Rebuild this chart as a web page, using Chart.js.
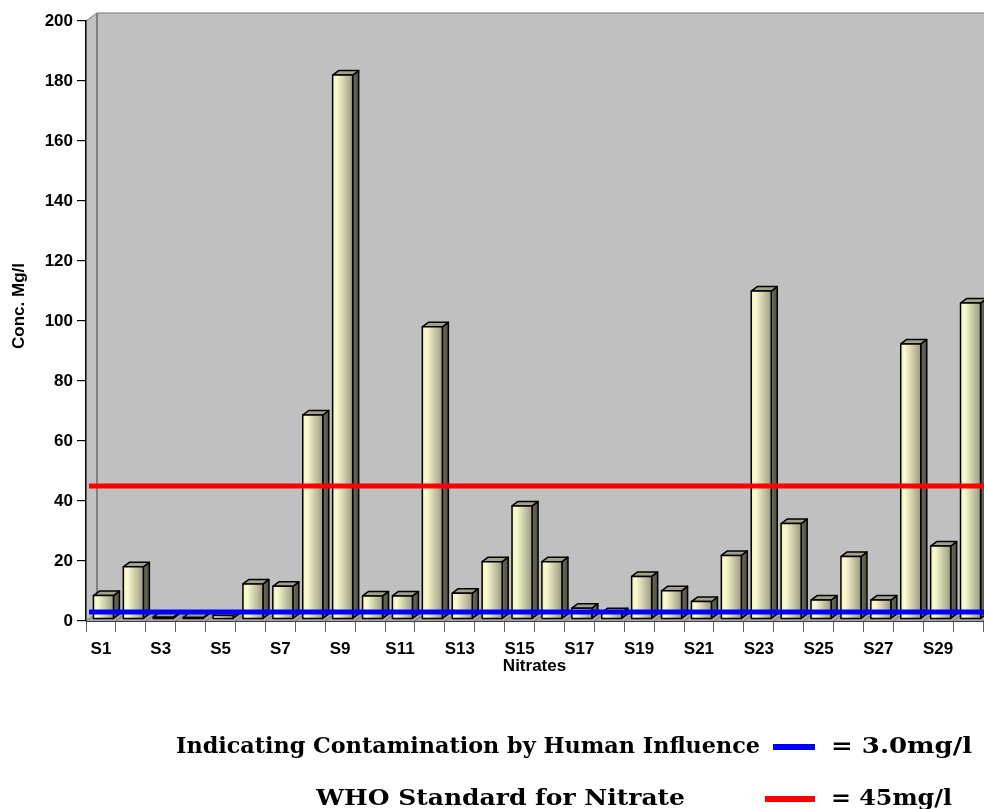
<!DOCTYPE html>
<html>
<head>
<meta charset="utf-8">
<script src="https://cdn.jsdelivr.net/npm/chart.js@4/dist/chart.umd.min.js"></script>
<style>
  html, body { margin: 0; padding: 0; background: #ffffff; overflow: hidden; }
  canvas { display: block; }
</style>
</head>
<body>
<canvas id="chart" width="984" height="809"></canvas>
<script>
// Sampling sites S1..S30
const sites = ['S1','S2','S3','S4','S5','S6','S7','S8','S9','S10',
               'S11','S12','S13','S14','S15','S16','S17','S18','S19','S20',
               'S21','S22','S23','S24','S25','S26','S27','S28','S29','S30'];

// Nitrate concentration per site (mg/l)
const nitrate = [7.8, 17.4, 0.6, 0.5, 1.2, 11.7, 10.9, 68.0, 181.3, 7.7,
                 7.7, 97.4, 8.6, 19.1, 37.7, 19.1, 3.6, 2.1, 14.2, 9.4,
                 5.8, 21.2, 109.3, 31.8, 6.3, 20.8, 6.3, 91.7, 24.3, 105.3];

// Value axis ticks
const yTicks = [0, 20, 40, 60, 80, 100, 120, 140, 160, 180, 200];

// Reference levels
const humanInfluenceLevel = 3.0;
const whoStandard = 45;

// Axis titles and legend captions
const yTitle = 'Conc. Mg/l';
const xTitle = 'Nitrates';
const legendHuman = ['Indicating Contamination by Human Influence', '= 3.0mg/l'];
const legendWho = ['WHO Standard for Nitrate', '= 45mg/l'];

// 3D look: wall depth, bar depth and how far the bar face sits behind the front plane
const WALL = { dx: 11, dy: -8 };
const BAR = { dx: 6, dy: -4.5 };
const FACE = { dx: 2.5, dy: -2 };

const FONT_SANS = "'Liberation Sans', Arial, sans-serif";
const FONT_SERIF = "'DejaVu Serif Condensed', 'DejaVu Serif', serif";

const wallsPlugin = {
  id: 'walls',
  beforeDraw(chart) {
    const { ctx, chartArea: a, width } = chart;
    const n = sites.length;
    const step = (a.right - a.left) / n;
    ctx.save();
    // back wall
    ctx.fillStyle = '#c0c0c0';
    ctx.fillRect(a.left + WALL.dx, a.top + WALL.dy, width - a.left, a.bottom - a.top);
    ctx.strokeStyle = '#9a9a9a';
    ctx.lineWidth = 1.5;
    ctx.beginPath();
    ctx.moveTo(a.left + WALL.dx, a.top + WALL.dy);
    ctx.lineTo(width, a.top + WALL.dy);
    ctx.stroke();
    // left side wall
    ctx.fillStyle = '#c2c2c2';
    ctx.beginPath();
    ctx.moveTo(a.left, a.top);
    ctx.lineTo(a.left + WALL.dx, a.top + WALL.dy);
    ctx.lineTo(a.left + WALL.dx, a.bottom + WALL.dy);
    ctx.lineTo(a.left, a.bottom);
    ctx.closePath();
    ctx.fill();
    ctx.strokeStyle = '#9a9a9a';
    ctx.beginPath();
    ctx.moveTo(a.left, a.top);
    ctx.lineTo(a.left + WALL.dx, a.top + WALL.dy);
    ctx.stroke();
    ctx.strokeStyle = '#808080';
    ctx.lineWidth = 2;
    ctx.beginPath();
    ctx.moveTo(a.left + WALL.dx, a.top + WALL.dy);
    ctx.lineTo(a.left + WALL.dx, a.bottom + WALL.dy);
    ctx.stroke();
    // floor
    ctx.fillStyle = '#a6a6a6';
    ctx.beginPath();
    ctx.moveTo(a.left, a.bottom);
    ctx.lineTo(a.right, a.bottom);
    ctx.lineTo(a.right + WALL.dx, a.bottom + WALL.dy);
    ctx.lineTo(a.left + WALL.dx, a.bottom + WALL.dy);
    ctx.closePath();
    ctx.fill();
    ctx.strokeStyle = '#7a7a7a';
    ctx.lineWidth = 1;
    for (let i = 0; i <= n; i++) {
      const x = a.left + i * step;
      ctx.beginPath();
      ctx.moveTo(x, a.bottom);
      ctx.lineTo(x + WALL.dx, a.bottom + WALL.dy);
      ctx.stroke();
    }
    ctx.restore();
  }
};

function drawBar3D(ctx, x0, x1, yTop, yBot) {
  ctx.lineWidth = 1.5;
  ctx.strokeStyle = '#000000';
  ctx.lineJoin = 'round';
  // side face
  const side = ctx.createLinearGradient(x1, 0, x1 + BAR.dx, 0);
  side.addColorStop(0, '#6e6e5a');
  side.addColorStop(1, '#4e4e40');
  ctx.fillStyle = side;
  ctx.beginPath();
  ctx.moveTo(x1, yBot);
  ctx.lineTo(x1 + BAR.dx, yBot + BAR.dy);
  ctx.lineTo(x1 + BAR.dx, yTop + BAR.dy);
  ctx.lineTo(x1, yTop);
  ctx.closePath();
  ctx.fill();
  ctx.stroke();
  // top face
  ctx.fillStyle = '#a2a28a';
  ctx.beginPath();
  ctx.moveTo(x0, yTop);
  ctx.lineTo(x0 + BAR.dx, yTop + BAR.dy);
  ctx.lineTo(x1 + BAR.dx, yTop + BAR.dy);
  ctx.lineTo(x1, yTop);
  ctx.closePath();
  ctx.fill();
  ctx.stroke();
  // front face
  const front = ctx.createLinearGradient(x0, 0, x1, 0);
  front.addColorStop(0, '#f0f0c0');
  front.addColorStop(0.2, '#fbfbcf');
  front.addColorStop(1, '#9c9a80');
  ctx.fillStyle = front;
  ctx.beginPath();
  ctx.rect(x0, yTop, x1 - x0, yBot - yTop);
  ctx.fill();
  ctx.stroke();
}

const bars3DPlugin = {
  id: 'bars3d',
  beforeDatasetDraw() { return false; },
  afterDatasetsDraw(chart) {
    const { ctx, chartArea: a, width } = chart;
    const meta = chart.getDatasetMeta(0);
    ctx.save();
    meta.data.forEach((el) => {
      const x0 = el.x - el.width / 2 + FACE.dx;
      const x1 = el.x + el.width / 2 + FACE.dx;
      drawBar3D(ctx, x0, x1, el.y + FACE.dy, el.base + FACE.dy);
    });
    // reference levels
    const yS = chart.scales.y;
    const drawLevel = (v, color) => {
      const y = yS.getPixelForValue(v);
      ctx.strokeStyle = color;
      ctx.lineWidth = 5;
      ctx.lineCap = 'butt';
      ctx.beginPath();
      ctx.moveTo(a.left + 3, y);
      ctx.lineTo(width, y);
      ctx.stroke();
    };
    drawLevel(whoStandard, '#ff0000');
    drawLevel(humanInfluenceLevel, '#0000ff');
    ctx.restore();
  }
};

function fitText(ctx, text, x0, x1, baseline, font) {
  ctx.save();
  ctx.font = font;
  const w = ctx.measureText(text).width;
  ctx.translate(x0, baseline);
  ctx.scale((x1 - x0) / w, 1);
  ctx.textAlign = 'left';
  ctx.textBaseline = 'alphabetic';
  ctx.fillStyle = '#000000';
  ctx.fillText(text, 0, 0);
  ctx.restore();
}

const titlesPlugin = {
  id: 'titlesAndLegend',
  afterDraw(chart) {
    const ctx = chart.ctx;
    // value axis title
    ctx.save();
    ctx.translate(19, 306);
    ctx.rotate(-Math.PI / 2);
    ctx.font = 'bold 17px ' + FONT_SANS;
    ctx.textAlign = 'center';
    ctx.textBaseline = 'middle';
    ctx.fillStyle = '#000000';
    ctx.fillText(yTitle, 0, 0);
    ctx.restore();

    // reference level legend
    const font = 'bold 22px ' + FONT_SERIF;
    fitText(ctx, legendHuman[0], 176, 760, 753, font);
    ctx.fillStyle = '#0000ff';
    ctx.fillRect(773, 744, 42, 6);
    fitText(ctx, legendHuman[1], 831, 972, 753, font);
    fitText(ctx, legendWho[0], 316, 685, 805, font);
    ctx.fillStyle = '#ff0000';
    ctx.fillRect(765, 796, 50, 6);
    fitText(ctx, legendWho[1], 831, 952, 805, font);
  }
};

new Chart(document.getElementById('chart'), {
  type: 'bar',
  data: {
    labels: sites,
    datasets: [{
      label: xTitle,
      data: nitrate,
      categoryPercentage: 1.0,
      barPercentage: 0.67,
      backgroundColor: '#f0f0c0'
    }]
  },
  options: {
    responsive: false,
    animation: false,
    events: [],
    layout: { padding: { top: 21, right: 1, left: 0, bottom: 0 } },
    plugins: { legend: { display: false }, tooltip: { enabled: false } },
    scales: {
      x: {
        offset: true,
        grid: {
          offset: true,
          drawOnChartArea: false,
          drawTicks: true,
          tickLength: 11,
          color: '#606060',
          lineWidth: 1
        },
        border: { display: true, color: '#404040', width: 1 },
        ticks: {
          autoSkip: false,
          maxRotation: 0,
          minRotation: 0,
          padding: 7,
          color: '#000000',
          font: { family: FONT_SANS, size: 17, weight: 'bold' },
          callback: (v, i) => (i % 2 === 0 ? sites[i] : '')
        },
        title: {
          display: true,
          text: xTitle,
          color: '#000000',
          font: { family: FONT_SANS, size: 17, weight: 'bold' },
          padding: { top: 0, bottom: 132 }
        },
        afterFit(scale) { scale.height = 188; }
      },
      y: {
        min: 0,
        max: 200,
        afterBuildTicks(scale) { scale.ticks = yTicks.map(v => ({ value: v })); },
        grid: {
          drawOnChartArea: false,
          drawTicks: true,
          tickLength: 9,
          color: '#000000',
          lineWidth: 1.2
        },
        border: { display: true, color: '#000000', width: 1.5 },
        ticks: {
          padding: 4,
          color: '#000000',
          font: { family: FONT_SANS, size: 17, weight: 'bold' }
        },
        afterFit(scale) { scale.width = 86; }
      }
    }
  },
  plugins: [wallsPlugin, bars3DPlugin, titlesPlugin]
});
</script>
</body>
</html>
